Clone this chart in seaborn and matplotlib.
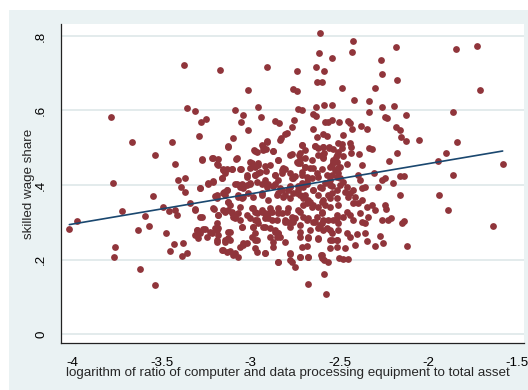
import numpy as np
import pandas as pd
import seaborn as sns
import matplotlib.pyplot as plt
from matplotlib.patches import Rectangle

# log ratio of computer equipment to total assets (x) and skilled wage share (y)
log_ratio = [
    -3.372, -3.358, -3.784, -3.666, -3.439, -3.538, -3.424, -3.771, -3.409, -3.368,
    -3.392, -3.368, -3.549, -3.720, -3.976, -4.018, -3.591, -3.490, -3.456, -3.426,
    -3.415, -3.342, -3.632, -3.570, -3.476, -3.760, -3.767, -3.431, -3.450, -3.379,
    -3.385, -3.355, -3.621, -3.535,
    -3.171, -2.907, -2.740, -3.016, -2.760, -2.739, -3.312, -3.087, -2.960, -3.040,
    -2.939, -2.735, -2.712, -3.278, -3.248, -3.053, -2.862, -2.840, -2.757, -2.765,
    -3.288, -3.016, -3.100, -3.125, -2.909, -2.829, -2.806, -2.793, -2.712, -2.980,
    -2.965, -2.931, -2.915, -2.872, -2.765, -2.728, -2.722, -2.732, -3.274, -3.218,
    -3.181, -3.188, -3.081, -3.003, -2.975, -2.956, -2.919, -2.913, -2.844, -3.156,
    -3.130, -3.106, -3.053, -3.021, -2.975, -2.960, -2.862, -2.825, -2.806, -2.769,
    -2.750, -3.162, -3.237, -3.209, -3.087, -3.049, -2.937, -2.900, -2.862,
    -3.284, -3.199, -3.190, -3.149, -3.130, -3.143, -3.059, -3.021, -3.003, -3.068,
    -3.040, -2.909, -2.937, -2.825, -2.806, -2.778, -2.760, -2.732, -2.704, -2.722,
    -2.853, -3.312, -3.284, -3.203, -3.181, -3.143, -3.125, -3.125, -3.115, -3.106,
    -3.087, -3.068, -3.059, -3.021, -2.984, -2.965, -2.975, -2.956, -2.937, -2.918,
    -2.890, -2.900, -2.881, -2.844, -2.825, -2.797, -2.769, -2.806, -2.778, -2.760,
    -2.722, -2.704, -3.302, -3.284, -3.265, -3.228, -3.218, -3.190, -3.190, -3.181,
    -3.125, -3.115, -3.143, -3.190, -3.049, -3.040, -3.021, -2.984, -2.975, -2.965,
    -2.918, -2.862, -2.844, -2.853, -2.806, -2.872, -2.722, -2.713, -2.722, -3.153,
    -3.115, -3.087, -3.068, -2.965, -2.918, -2.847, -2.778, -2.769, -2.750,
    -2.610, -2.422, -2.615, -2.544, -2.431, -2.183, -2.267, -2.634, -2.585, -2.263,
    -2.628, -2.597, -2.177, -2.488, -2.299, -2.420, -2.334, -2.634, -2.589, -2.542,
    -2.263, -2.194, -2.334, -2.647, -2.634, -2.244, -2.231, -2.126, -2.581, -2.563,
    -2.540, -2.501, -2.454, -2.441, -2.647, -2.428, -2.381, -2.346, -2.184, -2.160,
    -2.628, -2.594, -2.572, -2.479, -2.154, -2.126, -2.694, -2.638, -2.619, -2.591,
    -2.557, -2.488, -2.488, -2.441, -2.435, -2.535, -2.507, -2.520, -2.479, -2.333,
    -2.319, -2.435, -2.392, -2.175, -2.694, -2.694, -2.712, -2.656, -2.647, -2.600,
    -2.587, -2.594, -2.535, -2.516, -2.544, -2.497, -2.525, -2.460, -2.372, -2.222,
    -2.684, -2.656, -2.619, -2.544, -2.553, -2.507, -2.497, -2.394, -2.385, -2.306,
    -2.263, -2.244, -2.160, -2.138,
    -2.684, -2.647, -2.610, -2.581, -2.563, -2.553, -2.544, -2.712, -2.704, -2.675,
    -2.684, -2.647, -2.619, -2.600, -2.581, -2.497, -2.479, -2.460, -2.469, -2.441,
    -2.422, -2.450, -2.413, -2.376, -2.357, -2.376, -2.394, -2.422, -2.282, -2.198,
    -2.160, -2.319, -2.347, -2.301, -2.244, -2.239, -2.675, -2.647, -2.628, -2.600,
    -2.591, -2.610, -2.591, -2.553, -2.535, -2.516, -2.507, -2.479, -2.460, -2.441,
    -2.422, -2.385, -2.376, -2.357, -2.338, -2.263, -2.226, -2.212, -2.151, -2.138,
    -2.675, -2.619, -2.544, -2.516, -2.460, -2.441, -2.403, -2.413, -2.357, -2.347,
    -2.301, -2.272, -2.254, -2.122, -2.684, -2.675, -2.469, -2.606, -2.587, -2.501,
    -2.479, -2.451, -2.585, -2.675, -2.578,
    -1.847, -1.728, -1.712, -1.861, -2.055, -1.840, -1.903, -1.945, -1.583, -1.864,
    -1.943, -1.890, -1.638,
]
wage_share = [
    0.722, 0.606, 0.582, 0.516, 0.515, 0.480, 0.457, 0.406, 0.413, 0.418,
    0.395, 0.381, 0.370, 0.330, 0.303, 0.281, 0.316, 0.340, 0.330, 0.334,
    0.319, 0.351, 0.279, 0.289, 0.272, 0.234, 0.208, 0.242, 0.224, 0.245,
    0.209, 0.217, 0.175, 0.131,
    0.708, 0.716, 0.706, 0.654, 0.658, 0.652, 0.599, 0.600, 0.610, 0.588,
    0.582, 0.604, 0.600, 0.569, 0.576, 0.568, 0.571, 0.567, 0.574, 0.555,
    0.532, 0.548, 0.525, 0.503, 0.518, 0.525, 0.536, 0.540, 0.507, 0.494,
    0.489, 0.503, 0.497, 0.491, 0.483, 0.481, 0.469, 0.458, 0.469, 0.472,
    0.469, 0.456, 0.471, 0.461, 0.449, 0.458, 0.452, 0.438, 0.467, 0.443,
    0.443, 0.443, 0.443, 0.427, 0.428, 0.433, 0.426, 0.440, 0.443, 0.420,
    0.424, 0.418, 0.405, 0.411, 0.403, 0.403, 0.403, 0.403, 0.403,
    0.391, 0.370, 0.364, 0.382, 0.387, 0.373, 0.395, 0.400, 0.405, 0.373,
    0.369, 0.395, 0.378, 0.387, 0.373, 0.395, 0.378, 0.387, 0.395, 0.373,
    0.373, 0.335, 0.315, 0.335, 0.319, 0.328, 0.333, 0.355, 0.346, 0.324,
    0.315, 0.324, 0.306, 0.319, 0.337, 0.324, 0.306, 0.297, 0.328, 0.324,
    0.328, 0.311, 0.306, 0.337, 0.324, 0.328, 0.315, 0.301, 0.297, 0.301,
    0.328, 0.315, 0.279, 0.270, 0.281, 0.275, 0.270, 0.279, 0.297, 0.284,
    0.275, 0.252, 0.248, 0.248, 0.288, 0.239, 0.243, 0.288, 0.270, 0.252,
    0.288, 0.275, 0.270, 0.261, 0.248, 0.248, 0.275, 0.234, 0.208, 0.226,
    0.224, 0.217, 0.206, 0.221, 0.218, 0.194, 0.215, 0.194, 0.179,
    0.809, 0.786, 0.755, 0.741, 0.757, 0.770, 0.735, 0.716, 0.707, 0.699,
    0.677, 0.676, 0.682, 0.661, 0.661, 0.629, 0.626, 0.609, 0.615, 0.615,
    0.609, 0.613, 0.595, 0.591, 0.585, 0.583, 0.579, 0.587, 0.568, 0.570,
    0.574, 0.570, 0.572, 0.566, 0.550, 0.550, 0.557, 0.550, 0.555, 0.548,
    0.528, 0.536, 0.532, 0.533, 0.530, 0.517, 0.494, 0.505, 0.499, 0.503,
    0.500, 0.510, 0.499, 0.512, 0.503, 0.496, 0.489, 0.474, 0.478, 0.499,
    0.497, 0.485, 0.482, 0.487, 0.472, 0.449, 0.436, 0.467, 0.445, 0.481,
    0.485, 0.472, 0.467, 0.463, 0.454, 0.449, 0.440, 0.456, 0.453, 0.464,
    0.422, 0.418, 0.422, 0.427, 0.413, 0.431, 0.418, 0.427, 0.413, 0.433,
    0.413, 0.418, 0.425, 0.425,
    0.409, 0.387, 0.395, 0.405, 0.373, 0.400, 0.378, 0.405, 0.364, 0.360,
    0.351, 0.346, 0.342, 0.355, 0.346, 0.400, 0.409, 0.395, 0.382, 0.378,
    0.387, 0.369, 0.369, 0.392, 0.395, 0.360, 0.351, 0.351, 0.395, 0.405,
    0.373, 0.346, 0.342, 0.333, 0.346, 0.336, 0.311, 0.301, 0.315, 0.324,
    0.306, 0.293, 0.279, 0.279, 0.306, 0.319, 0.297, 0.315, 0.328, 0.319,
    0.306, 0.324, 0.301, 0.297, 0.315, 0.306, 0.306, 0.311, 0.297, 0.304,
    0.260, 0.254, 0.252, 0.252, 0.270, 0.260, 0.268, 0.239, 0.272, 0.250,
    0.237, 0.263, 0.243, 0.237, 0.236, 0.208, 0.230, 0.212, 0.199, 0.203,
    0.201, 0.202, 0.161, 0.135, 0.107,
    0.766, 0.773, 0.654, 0.596, 0.521, 0.516, 0.486, 0.464, 0.455, 0.426,
    0.373, 0.332, 0.289,
]

# second, closer reading of the crowded middle of the cloud
center_ratio = [
    -3.125, -2.937, -2.909, -2.834, -2.713, -2.638, -2.595, -2.557, -2.507,
    -2.975, -2.928, -2.872, -2.778, -2.722, -2.619, -2.591, -2.516, -3.274, -3.209,
    -3.078, -2.844, -2.741, -2.722, -2.535,
    -3.181, -3.153, -3.106, -3.143, -3.059, -2.994, -3.003, -2.956, -2.947, -2.890,
    -2.816, -2.825, -2.778, -2.694, -2.666, -2.600, -2.553, -2.507,
    -3.237, -3.209, -3.162, -3.078, -3.022, -2.975, -2.966, -2.919, -2.862, -2.844,
    -2.759, -2.713, -2.675, -2.628, -2.572, -2.516, -3.284,
    -3.134, -3.059, -3.040, -3.003, -2.909, -2.872, -2.834, -2.788, -2.778, -2.731,
    -2.685, -2.647, -2.600, -2.544, -2.516,
    -3.190, -3.153, -3.125, -3.068, -3.050, -3.012, -2.984, -2.937, -2.900, -2.844,
    -2.816, -2.778, -2.741, -2.694, -2.666, -2.619, -2.591, -2.553, -2.516,
    -3.312, -3.209, -3.153, -3.106, -3.097, -3.059, -2.994, -2.975, -2.937, -2.890,
    -2.881, -2.844, -2.788, -2.731, -2.703, -2.656, -2.600, -2.553, -2.507,
    -3.274, -3.181, -3.087, -3.003, -2.965, -2.919, -2.909, -2.853, -2.806, -2.788,
    -2.750, -2.685, -2.638, -2.600, -2.563, -2.516,
    -3.302, -3.256, -3.200, -3.181, -3.115, -3.050, -2.984, -2.928, -2.891, -2.862,
    -2.844, -2.778, -2.722, -2.666, -2.619, -2.572, -2.544, -2.507,
    -3.312, -3.293, -3.246, -3.190, -3.143, -3.125, -2.994, -2.975, -2.891, -2.834,
    -2.722, -2.675, -2.619, -2.553, -2.516,
    -3.162, -3.134, -3.097, -3.059, -3.040, -2.919, -2.975, -2.872, -2.778, -2.722,
    -2.675, -2.600, -2.553, -2.516,
    -2.844, -2.778, -2.600, -2.563,
]
center_share = [
    0.505, 0.507, 0.516, 0.521, 0.507, 0.505, 0.503, 0.501, 0.512,
    0.490, 0.494, 0.490, 0.481, 0.485, 0.481, 0.476, 0.481, 0.467, 0.472,
    0.472, 0.467, 0.463, 0.458, 0.463,
    0.454, 0.440, 0.442, 0.431, 0.442, 0.458, 0.445, 0.454, 0.436, 0.454,
    0.445, 0.431, 0.431, 0.449, 0.445, 0.442, 0.449, 0.445,
    0.404, 0.409, 0.418, 0.404, 0.422, 0.427, 0.409, 0.413, 0.427, 0.413,
    0.418, 0.427, 0.418, 0.431, 0.427, 0.422, 0.391,
    0.387, 0.400, 0.391, 0.404, 0.400, 0.396, 0.391, 0.387, 0.396, 0.396,
    0.404, 0.387, 0.391, 0.396, 0.387,
    0.373, 0.378, 0.355, 0.369, 0.364, 0.378, 0.369, 0.373, 0.360, 0.378,
    0.369, 0.364, 0.378, 0.373, 0.355, 0.373, 0.360, 0.364, 0.364,
    0.333, 0.337, 0.333, 0.328, 0.315, 0.342, 0.337, 0.328, 0.333, 0.337,
    0.328, 0.324, 0.337, 0.333, 0.346, 0.342, 0.328, 0.342, 0.346,
    0.315, 0.320, 0.311, 0.311, 0.306, 0.311, 0.320, 0.306, 0.306, 0.302,
    0.311, 0.306, 0.302, 0.297, 0.306, 0.311,
    0.279, 0.281, 0.284, 0.266, 0.275, 0.286, 0.288, 0.288, 0.284, 0.279,
    0.270, 0.288, 0.293, 0.279, 0.284, 0.284, 0.270, 0.279,
    0.266, 0.257, 0.261, 0.252, 0.252, 0.257, 0.261, 0.252, 0.261, 0.261,
    0.261, 0.257, 0.257, 0.252, 0.252,
    0.226, 0.221, 0.212, 0.234, 0.243, 0.217, 0.230, 0.234, 0.217, 0.208,
    0.208, 0.212, 0.230, 0.234,
    0.194, 0.199, 0.203, 0.194,
]

y_ticks = [0, 0.2, 0.4, 0.6, 0.8]
y_labels = ["0", ".2", ".4", ".6", ".8"]
x_ticks = [-4, -3.5, -3, -2.5, -2, -1.5]
x_labels = ["-4", "-3.5", "-3", "-2.5", "-2", "-1.5"]

df = pd.DataFrame({"x": log_ratio + center_ratio, "y": wage_share + center_share})

sns.set_style("white")
plt.rcParams["font.family"] = ["Liberation Sans", "DejaVu Sans"]

W, H = 528, 390
fig = plt.figure(figsize=(W / 100, H / 100), dpi=100)
fig.patch.set_facecolor("white")
# light grey graph region, leaving a thin white margin on the top and left
fig.patches.append(Rectangle((9 / W, 0), 1 - 9 / W, 1 - 10 / H,
                             transform=fig.transFigure, facecolor="#eaf2f3",
                             edgecolor="none", zorder=-10))

ax = fig.add_axes([61 / W, 47 / H, (524 - 61) / W, (343 - 24) / H])
ax.set_zorder(1)
ax.set_facecolor("white")

sns.scatterplot(data=df, x="x", y="y", ax=ax, color="#90353b", s=24,
                linewidth=0, zorder=3)
sns.regplot(data=df, x="x", y="y", ax=ax, scatter=False, ci=None,
            color="#1a476f", line_kws={"lw": 1.2, "zorder": 4})

ax.set_xlim(-4.065, -1.463)
ax.set_ylim(-0.024, 0.832)

ax.set_yticks(y_ticks)
ax.set_yticklabels(y_labels, rotation=90, va="center")
ax.set_xticks(x_ticks)
ax.set_xticklabels(x_labels)
ax.tick_params(axis="both", length=5, width=0.8, color="#333333",
               labelsize=9.6, labelcolor="black", direction="out")
ax.tick_params(axis="y", pad=5)
ax.tick_params(axis="x", pad=5)

ax.yaxis.grid(True, color="#e3ebec", lw=1.4)
ax.xaxis.grid(False)
ax.set_axisbelow(True)

for s in ["top", "right"]:
    ax.spines[s].set_visible(False)
for s in ["left", "bottom"]:
    ax.spines[s].set_color("#222222")
    ax.spines[s].set_linewidth(0.9)

ax.set_xlabel("logarithm of ratio of computer and data processing equipment to total asset",
              fontsize=9.6)
ax.set_ylabel("skilled wage share", fontsize=9.6)
ax.xaxis.set_label_coords(0.49, -0.094)
ax.xaxis.label.set_va("center")
ax.yaxis.set_label_coords(-0.069, 0.5)
ax.yaxis.label.set_va("center")

fig.savefig("out.png", dpi=100)
